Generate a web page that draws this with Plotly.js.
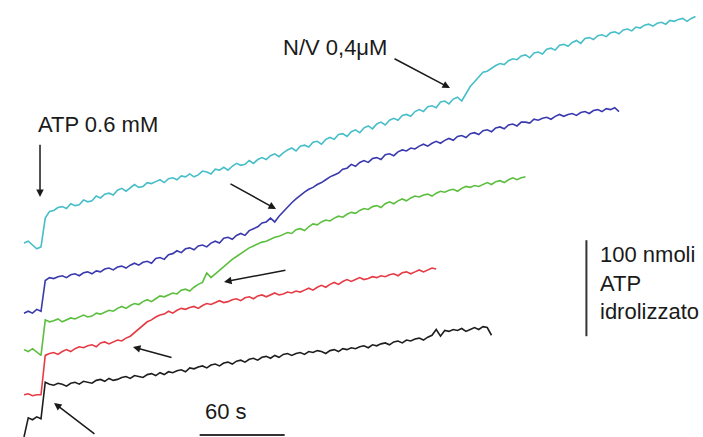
<!DOCTYPE html>
<html>
<head>
<meta charset="utf-8">
<script src="https://cdn.plot.ly/plotly-3.0.1.min.js"></script>
<style>html,body{margin:0;padding:0;background:#fff}#chart{width:703px;height:437px}</style>
</head>
<body>
<div id="chart"></div>
<script>
// Time axis: seconds after ATP addition, sampled every 3 s starting at -12 s
const sampleStart = -12;
const sampleStep = 3;

// Cumulative ATP hydrolysed (nmol, arbitrary vertical offset per trace)
const cyanTrace = [202,204,200,196,198,228,235,236,239,240,238,243,241,242,247,245,246,251,249,253,254,252,257,259,256,260,263,260,261,265,264,266,268,265,269,270,268,272,271,274,271,273,277,276,274,279,278,281,278,282,285,283,284,288,285,289,291,289,293,295,292,296,299,301,298,303,304,302,307,308,305,310,312,310,315,316,313,318,320,317,322,324,321,326,328,325,330,332,330,335,336,334,339,341,339,344,345,343,349,350,347,352,354,350,358,365,370,375,380,381,384,387,389,388,392,394,393,397,398,395,400,401,399,404,405,403,408,409,407,411,413,410,415,416,414,418,419,417,421,422,420,424,425,423,427,426,429,430,428,431,432,430,434,433,435,436,433,436,438];
const blueTrace = [129,131,129,133,131,163,166,165,167,168,166,169,170,168,171,172,170,173,172,175,176,174,177,178,176,179,181,179,182,183,181,186,187,185,190,191,194,192,196,197,195,199,200,198,202,204,202,207,208,206,210,212,210,215,217,219,223,224,228,224,230,235,239,244,248,252,255,258,260,263,265,268,271,273,275,279,280,284,282,286,288,286,290,291,289,294,295,293,297,299,298,301,300,303,305,303,306,308,306,309,311,309,313,314,312,316,317,315,319,320,318,322,323,321,325,326,324,328,328,327,331,330,332,333,331,334,336,334,336,337,335,338,339,337,340,341,339,342,341,343,339];
const greenTrace = [91,89,92,88,85,122,120,121,123,120,122,124,123,125,127,125,126,129,128,130,132,131,134,136,134,137,139,138,141,143,141,144,147,146,148,150,149,153,154,152,156,159,161,171,166,170,174,177,181,185,188,191,194,197,199,201,203,204,206,208,209,211,213,212,216,217,215,219,222,221,224,226,225,228,230,229,232,234,233,236,238,237,240,241,239,243,245,243,246,248,246,249,251,250,252,253,251,254,256,255,257,258,256,259,261,260,262,261,263,265,263,266,267,265,268,270,268,270,271];
const redTrace = [44,45,43,44,44,85,87,88,86,89,91,89,92,94,93,95,96,94,98,99,97,99,101,100,103,105,109,113,117,120,122,125,127,128,131,129,132,134,133,135,136,134,137,139,138,140,142,140,141,143,144,142,145,146,144,147,148,146,148,150,148,149,151,150,152,151,153,155,153,156,158,156,159,161,159,162,164,162,164,166,164,165,167,166,168,167,169,170,168,171,172,170,172,174,172,174,176,175];
const blackTrace = [0,20,18,21,19,57,55,54,56,55,53,56,57,55,58,57,56,59,60,58,61,59,60,62,63,61,64,63,62,65,66,64,67,65,68,67,69,70,68,72,71,73,74,72,75,76,74,77,78,76,79,80,78,81,82,80,83,84,82,85,83,86,87,85,87,88,86,89,88,90,89,87,90,91,89,92,91,93,92,94,95,93,96,95,97,98,96,99,100,98,101,100,102,103,101,104,106,112,105,111,110,112,111,113,110,112,114,112,115,114,106];

const traceColors = ['#47BEC8', '#3A3AAE', '#5CBE3E', '#E63B45', '#1E1E1E'];

// Scale bars
const scaleTime = 60;     // s
const scaleAmount = 100;  // nmol
const timeBarStart = 112;
const timeBarLevel = 2;
const amountBarTime = 385;
const amountBarBase = 105;

// Arrows: [head t, head n, tail t, tail n]
const arrowATP = [-0.7, 250, -0.7, 306];
const arrowNV = [288.7, 363.5, 248.5, 394.8];
const arrowBlue = [165.9, 237.5, 132.7, 264.6];
const arrowGreen = [129.2, 161.5, 173.6, 174];
const arrowRed = [64.9, 93.8, 93.2, 82.3];
const arrowBlack = [9.2, 35.4, 38.8, 2.1];

const series = [cyanTrace, blueTrace, greenTrace, redTrace, blackTrace];
const data = series.map((vals, k) => ({
  type: 'scatter', mode: 'lines',
  x0: sampleStart, dx: sampleStep, y: vals,
  line: {color: traceColors[k], width: 1.6, shape: 'linear'},
  hoverinfo: 'skip'
}));

const txtFont = {family: '"Liberation Sans", Arial, sans-serif', size: 22, color: '#1a1a1a'};
function arrow(a) {
  return {x: a[0], y: a[1], ax: a[2], ay: a[3], xref: 'x', yref: 'y', axref: 'x', ayref: 'y',
    text: '', showarrow: true, arrowhead: 2, arrowsize: 1, arrowwidth: 1.5, arrowcolor: '#1a1a1a', standoff: 0, startstandoff: 0};
}
function label(t, n, text) {
  return {x: t, y: n, xref: 'x', yref: 'y', text: text, showarrow: false, xanchor: 'left', yanchor: 'middle', align: 'left', font: txtFont};
}

const layout = {
  width: 703, height: 437,
  margin: {l: 0, r: 0, t: 0, b: 0},
  paper_bgcolor: '#ffffff', plot_bgcolor: '#ffffff',
  showlegend: false,
  xaxis: {range: [-28.94, 467.3], visible: false, fixedrange: true},
  yaxis: {range: [0, 455.2], visible: false, fixedrange: true},
  shapes: [
    {type: 'line', xref: 'x', yref: 'y', x0: timeBarStart, x1: timeBarStart + scaleTime, y0: timeBarLevel, y1: timeBarLevel, line: {color: '#333', width: 2}},
    {type: 'line', xref: 'x', yref: 'y', x0: amountBarTime, x1: amountBarTime, y0: amountBarBase, y1: amountBarBase + scaleAmount, line: {color: '#333', width: 2}}
  ],
  annotations: [
    label(-3.5, 325, 'ATP 0.6 mM'),
    label(169.5, 406, 'N/V 0,4μM'),
    label(114.5, 27, '60 s'),
    label(393.5, 160.4, '100 nmoli<br>ATP<br>idrolizzato'),
    arrow(arrowATP), arrow(arrowNV), arrow(arrowBlue), arrow(arrowGreen), arrow(arrowRed), arrow(arrowBlack)
  ]
};

Plotly.newPlot('chart', data, layout, {staticPlot: true, displayModeBar: false});
</script>
</body>
</html>
